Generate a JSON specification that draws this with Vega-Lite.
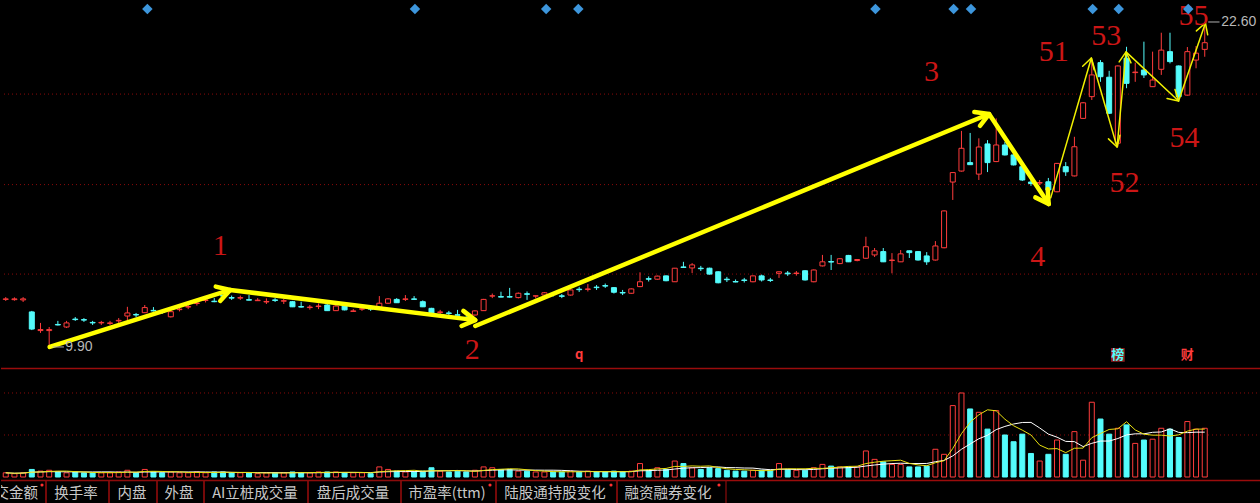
{
"$schema":"https://vega.github.io/schema/vega-lite/v6.json",
"background":"#000000",
"padding":0,
"spacing":0,
"config":{"view":{"stroke":null}},
"datasets":{
"k":[
{"i":0,"o":11.75,"h":11.84,"l":11.69,"c":11.77,"d":"u","v":5,"m5":5,"m10":5},
{"i":1,"o":11.74,"h":11.83,"l":11.70,"c":11.77,"d":"u","v":4,"m5":4.5,"m10":4.5},
{"i":2,"o":11.73,"h":11.84,"l":11.65,"c":11.77,"d":"u","v":5,"m5":4.67,"m10":4.67},
{"i":3,"o":11.26,"h":11.30,"l":10.55,"c":10.59,"d":"d","v":9,"m5":5.75,"m10":5.75},
{"i":4,"o":10.53,"h":10.83,"l":10.44,"c":10.57,"d":"u","v":7,"m5":6,"m10":6},
{"i":5,"o":10.53,"h":10.67,"l":9.90,"c":10.57,"d":"u","v":8,"m5":6.6,"m10":6.33},
{"i":6,"o":10.77,"h":10.91,"l":10.73,"c":10.75,"d":"d","v":6,"m5":7,"m10":6.29},
{"i":7,"o":10.67,"h":10.91,"l":10.63,"c":10.83,"d":"u","v":5,"m5":7,"m10":6.13},
{"i":8,"o":10.98,"h":11.06,"l":10.91,"c":10.96,"d":"d","v":6,"m5":6.4,"m10":6.11},
{"i":9,"o":10.96,"h":11.02,"l":10.87,"c":10.94,"d":"d","v":5,"m5":6,"m10":6},
{"i":10,"o":10.85,"h":10.91,"l":10.75,"c":10.83,"d":"d","v":5,"m5":5.4,"m10":6},
{"i":11,"o":10.83,"h":10.91,"l":10.75,"c":10.85,"d":"u","v":5,"m5":5.2,"m10":6.1},
{"i":12,"o":10.81,"h":10.91,"l":10.75,"c":10.83,"d":"u","v":5,"m5":5.2,"m10":6.1},
{"i":13,"o":10.91,"h":11.02,"l":10.83,"c":10.93,"d":"u","v":6,"m5":5.2,"m10":5.8},
{"i":14,"o":11.10,"h":11.46,"l":10.94,"c":11.22,"d":"u","v":8,"m5":5.8,"m10":5.9},
{"i":15,"o":11.16,"h":11.22,"l":11.06,"c":11.14,"d":"d","v":5,"m5":5.8,"m10":5.6},
{"i":16,"o":11.23,"h":11.53,"l":11.22,"c":11.43,"d":"u","v":9,"m5":6.6,"m10":5.9},
{"i":17,"o":11.32,"h":11.45,"l":11.28,"c":11.30,"d":"d","v":6,"m5":6.8,"m10":6},
{"i":18,"o":11.26,"h":11.34,"l":11.18,"c":11.24,"d":"d","v":5,"m5":6.6,"m10":5.9},
{"i":19,"o":11.07,"h":11.34,"l":11.04,"c":11.27,"d":"u","v":6,"m5":6.2,"m10":6},
{"i":20,"o":11.35,"h":11.45,"l":11.28,"c":11.37,"d":"u","v":5,"m5":6.2,"m10":6},
{"i":21,"o":11.45,"h":11.55,"l":11.37,"c":11.47,"d":"u","v":5,"m5":5.4,"m10":6},
{"i":22,"o":11.59,"h":11.69,"l":11.51,"c":11.61,"d":"u","v":6,"m5":5.4,"m10":6.1},
{"i":23,"o":11.71,"h":11.80,"l":11.63,"c":11.73,"d":"u","v":5,"m5":5.4,"m10":6},
{"i":24,"o":11.68,"h":11.80,"l":11.64,"c":11.66,"d":"d","v":6,"m5":5.4,"m10":5.8},
{"i":25,"o":11.90,"h":12.00,"l":11.82,"c":11.88,"d":"d","v":6,"m5":5.6,"m10":5.9},
{"i":26,"o":11.82,"h":11.90,"l":11.73,"c":11.80,"d":"d","v":5,"m5":5.6,"m10":5.5},
{"i":27,"o":11.80,"h":11.90,"l":11.73,"c":11.82,"d":"u","v":5,"m5":5.4,"m10":5.4},
{"i":28,"o":11.74,"h":11.92,"l":11.71,"c":11.72,"d":"d","v":5,"m5":5.4,"m10":5.4},
{"i":29,"o":11.70,"h":11.80,"l":11.69,"c":11.72,"d":"u","v":4,"m5":5,"m10":5.2},
{"i":30,"o":11.65,"h":11.79,"l":11.57,"c":11.67,"d":"u","v":5,"m5":4.8,"m10":5.2},
{"i":31,"o":11.73,"h":11.80,"l":11.65,"c":11.71,"d":"d","v":5,"m5":4.8,"m10":5.2},
{"i":32,"o":11.68,"h":11.77,"l":11.57,"c":11.70,"d":"u","v":5,"m5":4.8,"m10":5.1},
{"i":33,"o":11.66,"h":11.69,"l":11.45,"c":11.46,"d":"d","v":6,"m5":5,"m10":5.2},
{"i":34,"o":11.47,"h":11.66,"l":11.43,"c":11.45,"d":"d","v":5,"m5":5.2,"m10":5.1},
{"i":35,"o":11.43,"h":11.53,"l":11.35,"c":11.45,"d":"u","v":5,"m5":5.2,"m10":5},
{"i":36,"o":11.47,"h":11.59,"l":11.37,"c":11.49,"d":"u","v":6,"m5":5.4,"m10":5.1},
{"i":37,"o":11.53,"h":11.57,"l":11.30,"c":11.31,"d":"d","v":6,"m5":5.6,"m10":5.2},
{"i":38,"o":11.31,"h":11.53,"l":11.30,"c":11.49,"d":"u","v":6,"m5":5.6,"m10":5.3},
{"i":39,"o":11.49,"h":11.51,"l":11.32,"c":11.34,"d":"d","v":5,"m5":5.6,"m10":5.4},
{"i":40,"o":11.28,"h":11.37,"l":11.27,"c":11.30,"d":"u","v":5,"m5":5.6,"m10":5.4},
{"i":41,"o":11.37,"h":11.47,"l":11.30,"c":11.38,"d":"u","v":5,"m5":5.4,"m10":5.4},
{"i":42,"o":11.39,"h":11.45,"l":11.30,"c":11.37,"d":"d","v":4,"m5":5,"m10":5.3},
{"i":43,"o":11.44,"h":11.88,"l":11.42,"c":11.60,"d":"u","v":12,"m5":6.2,"m10":5.9},
{"i":44,"o":11.60,"h":11.80,"l":11.58,"c":11.77,"d":"u","v":9,"m5":7,"m10":6.3},
{"i":45,"o":11.75,"h":11.80,"l":11.61,"c":11.62,"d":"d","v":7,"m5":7.4,"m10":6.5},
{"i":46,"o":11.75,"h":11.92,"l":11.69,"c":11.77,"d":"u","v":6,"m5":7.6,"m10":6.5},
{"i":47,"o":11.77,"h":11.88,"l":11.73,"c":11.75,"d":"d","v":6,"m5":8,"m10":6.5},
{"i":48,"o":11.66,"h":11.71,"l":11.45,"c":11.46,"d":"d","v":7,"m5":7,"m10":6.6},
{"i":49,"o":11.40,"h":11.42,"l":11.20,"c":11.22,"d":"d","v":11,"m5":7.4,"m10":7.2},
{"i":50,"o":11.24,"h":11.34,"l":11.18,"c":11.26,"d":"u","v":7,"m5":7.4,"m10":7.4},
{"i":51,"o":11.22,"h":11.30,"l":11.12,"c":11.20,"d":"d","v":6,"m5":7.4,"m10":7.5},
{"i":52,"o":11.15,"h":11.34,"l":11.12,"c":11.13,"d":"d","v":7,"m5":7.6,"m10":7.8},
{"i":53,"o":11.04,"h":11.10,"l":10.96,"c":11.02,"d":"d","v":6,"m5":7.4,"m10":7.2},
{"i":54,"o":11.14,"h":11.32,"l":11.12,"c":11.30,"d":"u","v":8,"m5":6.8,"m10":7.1},
{"i":55,"o":11.31,"h":11.77,"l":11.30,"c":11.75,"d":"u","v":12,"m5":7.8,"m10":7.6},
{"i":56,"o":11.88,"h":11.98,"l":11.80,"c":11.89,"d":"u","v":11,"m5":8.8,"m10":8.1},
{"i":57,"o":11.86,"h":12.05,"l":11.83,"c":11.84,"d":"d","v":9,"m5":9.2,"m10":8.4},
{"i":58,"o":11.86,"h":12.20,"l":11.82,"c":11.84,"d":"d","v":9,"m5":9.8,"m10":8.6},
{"i":59,"o":11.82,"h":12.02,"l":11.79,"c":11.99,"d":"u","v":7,"m5":9.6,"m10":8.2},
{"i":60,"o":11.97,"h":12.06,"l":11.73,"c":11.95,"d":"d","v":7,"m5":8.6,"m10":8.2},
{"i":61,"o":11.88,"h":11.90,"l":11.79,"c":11.89,"d":"u","v":6,"m5":7.6,"m10":8.2},
{"i":62,"o":11.92,"h":12.04,"l":11.90,"c":12.01,"d":"u","v":6,"m5":7,"m10":8.1},
{"i":63,"o":11.97,"h":12.04,"l":11.86,"c":11.95,"d":"d","v":6,"m5":6.4,"m10":8.1},
{"i":64,"o":11.89,"h":11.96,"l":11.80,"c":11.87,"d":"d","v":6,"m5":6.2,"m10":7.9},
{"i":65,"o":11.92,"h":12.14,"l":11.90,"c":12.12,"d":"u","v":7,"m5":6.2,"m10":7.4},
{"i":66,"o":12.15,"h":12.24,"l":12.04,"c":12.13,"d":"d","v":6,"m5":6.2,"m10":6.9},
{"i":67,"o":12.14,"h":12.35,"l":12.06,"c":12.16,"d":"u","v":7,"m5":6.4,"m10":6.7},
{"i":68,"o":12.23,"h":12.31,"l":12.12,"c":12.21,"d":"d","v":6,"m5":6.4,"m10":6.4},
{"i":69,"o":12.29,"h":12.37,"l":12.20,"c":12.27,"d":"d","v":6,"m5":6.4,"m10":6.3},
{"i":70,"o":12.21,"h":12.23,"l":11.98,"c":12.03,"d":"d","v":7,"m5":6.4,"m10":6.3},
{"i":71,"o":12.02,"h":12.12,"l":11.92,"c":12.00,"d":"d","v":6,"m5":6.4,"m10":6.3},
{"i":72,"o":11.99,"h":12.18,"l":11.97,"c":12.16,"d":"u","v":7,"m5":6.4,"m10":6.4},
{"i":73,"o":12.25,"h":12.81,"l":12.23,"c":12.44,"d":"u","v":16,"m5":8.4,"m10":7.4},
{"i":74,"o":12.56,"h":12.65,"l":12.45,"c":12.54,"d":"d","v":8,"m5":8.8,"m10":7.6},
{"i":75,"o":12.54,"h":12.68,"l":12.52,"c":12.66,"d":"u","v":11,"m5":9.6,"m10":8},
{"i":76,"o":12.67,"h":12.68,"l":12.46,"c":12.48,"d":"d","v":9,"m5":10.2,"m10":8.3},
{"i":77,"o":12.44,"h":12.98,"l":12.43,"c":12.97,"d":"u","v":19,"m5":12.6,"m10":9.5},
{"i":78,"o":13.02,"h":13.22,"l":12.98,"c":13.00,"d":"d","v":16,"m5":12.6,"m10":10.5},
{"i":79,"o":12.98,"h":13.17,"l":12.78,"c":13.10,"d":"u","v":11,"m5":13.2,"m10":11},
{"i":80,"o":12.97,"h":13.06,"l":12.86,"c":12.95,"d":"d","v":9,"m5":12.8,"m10":11.2},
{"i":81,"o":12.97,"h":12.99,"l":12.72,"c":12.74,"d":"d","v":11,"m5":13.2,"m10":11.7},
{"i":82,"o":12.83,"h":12.85,"l":12.38,"c":12.40,"d":"d","v":10,"m5":11.4,"m10":12},
{"i":83,"o":12.54,"h":12.63,"l":12.43,"c":12.52,"d":"d","v":8,"m5":9.8,"m10":11.2},
{"i":84,"o":12.45,"h":12.53,"l":12.42,"c":12.43,"d":"d","v":7,"m5":9,"m10":11.1},
{"i":85,"o":12.51,"h":12.59,"l":12.41,"c":12.49,"d":"d","v":7,"m5":8.6,"m10":10.7},
{"i":86,"o":12.44,"h":12.68,"l":12.42,"c":12.67,"d":"u","v":8,"m5":8,"m10":10.6},
{"i":87,"o":12.67,"h":12.72,"l":12.45,"c":12.51,"d":"d","v":8,"m5":7.6,"m10":9.5},
{"i":88,"o":12.51,"h":12.59,"l":12.43,"c":12.49,"d":"d","v":8,"m5":7.6,"m10":8.7},
{"i":89,"o":12.77,"h":12.84,"l":12.59,"c":12.83,"d":"u","v":16,"m5":9.4,"m10":9.2},
{"i":90,"o":12.78,"h":12.86,"l":12.67,"c":12.75,"d":"d","v":9,"m5":9.8,"m10":9.2},
{"i":91,"o":12.76,"h":12.86,"l":12.68,"c":12.78,"d":"u","v":8,"m5":9.8,"m10":8.9},
{"i":92,"o":12.87,"h":12.89,"l":12.49,"c":12.51,"d":"d","v":8,"m5":9.8,"m10":8.7},
{"i":93,"o":12.44,"h":12.92,"l":12.42,"c":12.90,"d":"u","v":11,"m5":10.4,"m10":9},
{"i":94,"o":13.06,"h":13.49,"l":13.04,"c":13.22,"d":"u","v":15,"m5":10.2,"m10":9.8},
{"i":95,"o":13.23,"h":13.49,"l":12.90,"c":13.21,"d":"d","v":13,"m5":11,"m10":10.4},
{"i":96,"o":13.15,"h":13.36,"l":13.13,"c":13.34,"d":"u","v":12,"m5":11.8,"m10":10.8},
{"i":97,"o":13.47,"h":13.49,"l":13.21,"c":13.22,"d":"d","v":12,"m5":12.6,"m10":11.2},
{"i":98,"o":13.27,"h":13.32,"l":13.24,"c":13.31,"d":"u","v":12,"m5":12.8,"m10":11.6},
{"i":99,"o":13.36,"h":14.20,"l":13.34,"c":13.81,"d":"u","v":31,"m5":16,"m10":13.1},
{"i":100,"o":13.49,"h":13.76,"l":13.41,"c":13.65,"d":"u","v":21,"m5":17.6,"m10":14.3},
{"i":101,"o":13.62,"h":13.76,"l":13.21,"c":13.22,"d":"d","v":18,"m5":18.8,"m10":15.3},
{"i":102,"o":13.27,"h":13.56,"l":12.77,"c":13.29,"d":"u","v":15,"m5":19.4,"m10":16},
{"i":103,"o":13.22,"h":13.68,"l":13.21,"c":13.53,"d":"u","v":15,"m5":20,"m10":16.4},
{"i":104,"o":13.65,"h":13.66,"l":13.37,"c":13.58,"d":"d","v":12,"m5":16.2,"m10":16.1},
{"i":105,"o":13.62,"h":13.64,"l":13.27,"c":13.29,"d":"d","v":12,"m5":14.4,"m10":16},
{"i":106,"o":13.45,"h":13.60,"l":13.10,"c":13.22,"d":"d","v":13,"m5":13.4,"m10":16.1},
{"i":107,"o":13.29,"h":14.03,"l":13.27,"c":13.84,"d":"u","v":33,"m5":17,"m10":18.2},
{"i":108,"o":13.77,"h":15.23,"l":13.75,"c":15.21,"d":"u","v":27,"m5":19.4,"m10":19.7},
{"i":109,"o":16.34,"h":16.72,"l":15.64,"c":16.71,"d":"u","v":85,"m5":34,"m10":25.1},
{"i":110,"o":16.77,"h":18.34,"l":16.75,"c":17.66,"d":"u","v":100,"m5":51.6,"m10":33},
{"i":111,"o":17.10,"h":18.26,"l":17.01,"c":17.02,"d":"d","v":81,"m5":65.2,"m10":39.3},
{"i":112,"o":16.65,"h":18.05,"l":16.42,"c":17.71,"d":"u","v":77,"m5":74,"m10":45.5},
{"i":113,"o":17.83,"h":17.98,"l":16.73,"c":17.10,"d":"d","v":57,"m5":80,"m10":49.7},
{"i":114,"o":17.14,"h":18.83,"l":17.12,"c":17.79,"d":"u","v":79,"m5":78.8,"m10":56.4},
{"i":115,"o":17.79,"h":17.91,"l":17.38,"c":17.40,"d":"d","v":50,"m5":68.8,"m10":60.2},
{"i":116,"o":17.40,"h":17.48,"l":16.99,"c":17.01,"d":"d","v":42,"m5":61,"m10":63.1},
{"i":117,"o":16.94,"h":16.97,"l":16.38,"c":16.42,"d":"d","v":51,"m5":55.8,"m10":64.9},
{"i":118,"o":16.34,"h":16.42,"l":16.19,"c":16.28,"d":"d","v":28,"m5":50,"m10":65},
{"i":119,"o":16.30,"h":16.42,"l":16.22,"c":16.32,"d":"u","v":19,"m5":38,"m10":58.4},
{"i":120,"o":16.35,"h":16.50,"l":16.01,"c":16.03,"d":"d","v":27,"m5":33.4,"m10":51.1},
{"i":121,"o":15.96,"h":17.08,"l":15.94,"c":17.07,"d":"u","v":44,"m5":33.8,"m10":47.4},
{"i":122,"o":16.94,"h":17.12,"l":16.58,"c":16.74,"d":"d","v":27,"m5":29,"m10":42.4},
{"i":123,"o":16.58,"h":18.11,"l":16.56,"c":17.72,"d":"u","v":54,"m5":34.2,"m10":42.1},
{"i":124,"o":18.83,"h":19.47,"l":18.81,"c":19.44,"d":"u","v":20,"m5":34.4,"m10":36.2},
{"i":125,"o":19.68,"h":21.11,"l":19.55,"c":20.53,"d":"u","v":89,"m5":46.8,"m10":40.1},
{"i":126,"o":21.01,"h":21.11,"l":20.26,"c":20.46,"d":"d","v":69,"m5":51.8,"m10":42.8},
{"i":127,"o":20.44,"h":20.69,"l":19.00,"c":19.03,"d":"d","v":51,"m5":56.6,"m10":42.8},
{"i":128,"o":17.86,"h":20.90,"l":17.72,"c":20.88,"d":"u","v":58,"m5":57.4,"m10":45.8},
{"i":129,"o":21.18,"h":21.63,"l":20.01,"c":20.20,"d":"d","v":62,"m5":65.8,"m10":50.1},
{"i":130,"o":20.62,"h":21.01,"l":20.26,"c":20.64,"d":"u","v":40,"m5":56,"m10":51.4},
{"i":131,"o":20.72,"h":21.83,"l":20.41,"c":20.53,"d":"d","v":44,"m5":51,"m10":51.4},
{"i":132,"o":20.07,"h":21.44,"l":20.06,"c":20.33,"d":"u","v":45,"m5":49.8,"m10":53.2},
{"i":133,"o":20.75,"h":22.18,"l":20.53,"c":21.50,"d":"u","v":58,"m5":49.8,"m10":53.6},
{"i":134,"o":21.44,"h":22.18,"l":20.98,"c":21.05,"d":"d","v":57,"m5":48.8,"m10":57.3},
{"i":135,"o":20.88,"h":20.90,"l":19.48,"c":19.68,"d":"d","v":47,"m5":50.2,"m10":53.1},
{"i":136,"o":19.74,"h":21.62,"l":19.72,"c":21.44,"d":"u","v":66,"m5":54.6,"m10":52.8},
{"i":137,"o":21.11,"h":21.66,"l":20.79,"c":21.38,"d":"u","v":57,"m5":57,"m10":53.4},
{"i":138,"o":21.53,"h":22.60,"l":21.24,"c":21.79,"d":"u","v":58,"m5":57,"m10":53.4}
],
"grid":[{"gp":19.78},{"gp":16.24},{"gp":12.74}],
"vgrid":[{"gv":100},{"gv":50}],
"thick":[
{"g":"s1","o":1,"x":5.06,"y":9.89},{"g":"s1","o":2,"x":25.84,"y":12.12},{"g":"s1","o":3,"x":54.04,"y":10.94},
{"g":"h1","o":1,"x":24.17,"y":12.25},{"g":"h1","o":2,"x":25.84,"y":12.12},{"g":"h1","o":3,"x":24.68,"y":11.69},
{"g":"h2","o":1,"x":52.67,"y":11.30},{"g":"h2","o":2,"x":54.04,"y":10.94},{"g":"h2","o":3,"x":52.46,"y":10.71},
{"g":"s2","o":1,"x":54.04,"y":10.71},{"g":"s2","o":2,"x":113.18,"y":19.00},{"g":"s2","o":3,"x":120.04,"y":15.48},
{"g":"h3","o":1,"x":111.48,"y":19.08},{"g":"h3","o":2,"x":113.18,"y":19.00},{"g":"h3","o":3,"x":112.13,"y":18.54},
{"g":"h4","o":1,"x":119.92,"y":16.07},{"g":"h4","o":2,"x":120.04,"y":15.48},{"g":"h4","o":3,"x":118.50,"y":15.74}
],
"thin":[
{"g":"z","o":1,"x":120.27,"y":15.72},{"g":"z","o":2,"x":124.95,"y":21.19},{"g":"z","o":3,"x":127.91,"y":17.71},{"g":"z","o":4,"x":128.94,"y":21.43},{"g":"z","o":5,"x":134.99,"y":19.51},{"g":"z","o":6,"x":138.08,"y":22.56},
{"g":"t1","o":1,"x":123.95,"y":20.87},{"g":"t1","o":2,"x":124.95,"y":21.19},{"g":"t1","o":3,"x":125.27,"y":20.73},
{"g":"t2","o":1,"x":128.24,"y":18.17},{"g":"t2","o":2,"x":127.91,"y":17.71},{"g":"t2","o":3,"x":126.92,"y":18.03},
{"g":"t3","o":1,"x":128.15,"y":21.04},{"g":"t3","o":2,"x":128.94,"y":21.43},{"g":"t3","o":3,"x":129.51,"y":21.00},
{"g":"t4","o":1,"x":134.58,"y":19.96},{"g":"t4","o":2,"x":134.99,"y":19.51},{"g":"t4","o":3,"x":133.66,"y":19.61},
{"g":"t5","o":1,"x":137.04,"y":22.25},{"g":"t5","o":2,"x":138.08,"y":22.56},{"g":"t5","o":3,"x":138.34,"y":22.10}
],
"labels":[
{"t":"1","x":24.69,"y":13.84},{"t":"2","x":53.70,"y":9.77},{"t":"3","x":106.56,"y":20.64},{"t":"4","x":118.78,"y":13.41},
{"t":"51","x":120.61,"y":21.41},{"t":"52","x":128.77,"y":16.30},{"t":"53","x":126.66,"y":22.05},{"t":"54","x":135.68,"y":18.08},{"t":"55","x":136.71,"y":22.84}
],
"diamonds":[{"i":16.3},{"i":47.1},{"i":62.2},{"i":65.9},{"i":100.1},{"i":109.1},{"i":111.1},{"i":125.1},{"i":128.1},{"i":136.1}],
"extremes":[{"t":"9.90","x0":5.4,"x1":6.7,"tx":6.85,"y":9.89},{"t":"22.60","x0":138.4,"x1":139.7,"tx":139.9,"y":22.60}],
"events":[{"t":"q","i":66,"k":"q"},{"t":"榜","i":128,"k":"b"},{"t":"财","i":136,"k":"c"}],
"tabs":[
{"n":"成交金额","x0":-10,"x1":45,"lx":8},
{"n":"换手率","x0":45,"x1":108,"lx":75},
{"n":"内盘","x0":108,"x1":156,"lx":131},
{"n":"外盘","x0":156,"x1":203,"lx":178},
{"n":"AI立桩成交量","x0":203,"x1":307,"lx":254},
{"n":"盘后成交量","x0":307,"x1":400,"lx":352},
{"n":"市盈率(ttm)","x0":400,"x1":495,"lx":446},
{"n":"陆股通持股变化","x0":495,"x1":616,"lx":554},
{"n":"融资融券变化","x0":616,"x1":725,"lx":667}
],
"dots":[{"dx":41},{"dx":489},{"dx":610},{"dx":718}]
},
"vconcat":[
{
"width":1260,"height":367,
"layer":[
{"data":{"name":"grid"},"mark":{"type":"rule","color":"#8a0a0a","strokeDash":[1,3],"strokeWidth":1,"clip":true},
 "encoding":{"y":{"field":"gp","type":"quantitative","scale":{"domain":[9.106,23.46],"nice":false,"zero":false},"axis":null}}},
{"data":{"name":"k"},"mark":{"type":"rule","strokeWidth":1,"clip":true},
 "encoding":{"x":{"field":"i","type":"quantitative","scale":{"domain":[0.03,143.9],"nice":false,"zero":false},"axis":null},
  "y":{"field":"l","type":"quantitative","scale":{"domain":[9.106,23.46],"nice":false,"zero":false},"axis":null},"y2":{"field":"h"},
  "color":{"field":"d","type":"nominal","scale":{"domain":["u","d"],"range":["#ff3c3c","#54fcfc"]},"legend":null}}},
{"data":{"name":"k"},"mark":{"type":"bar","width":5,"strokeWidth":1,"clip":true},
 "encoding":{"x":{"field":"i","type":"quantitative","axis":null},
  "y":{"field":"o","type":"quantitative","axis":null},"y2":{"field":"c"},
  "fill":{"field":"d","type":"nominal","scale":{"domain":["u","d"],"range":["#000000","#54fcfc"]},"legend":null},
  "stroke":{"field":"d","type":"nominal","scale":{"domain":["u","d"],"range":["#ff3c3c","#54fcfc"]},"legend":null}}},
{"data":{"name":"thick"},"mark":{"type":"line","color":"#ffff00","strokeWidth":4.5,"strokeCap":"round","strokeJoin":"round","clip":true},
 "encoding":{"x":{"field":"x","type":"quantitative","axis":null},"y":{"field":"y","type":"quantitative","axis":null},"detail":{"field":"g"},"order":{"field":"o"}}},
{"data":{"name":"thin"},"mark":{"type":"line","color":"#f0f000","strokeWidth":1.5,"strokeCap":"round","strokeJoin":"round","clip":true},
 "encoding":{"x":{"field":"x","type":"quantitative","axis":null},"y":{"field":"y","type":"quantitative","axis":null},"detail":{"field":"g"},"order":{"field":"o"}}},
{"data":{"name":"labels"},"mark":{"type":"text","font":"Liberation Serif","fontSize":30,"color":"#cc1616","align":"center","baseline":"middle","clip":true},
 "encoding":{"x":{"field":"x","type":"quantitative","axis":null},"y":{"field":"y","type":"quantitative","axis":null},"text":{"field":"t"}}},
{"data":{"name":"diamonds"},"mark":{"type":"point","shape":"diamond","filled":true,"size":110,"color":"#3d96dc","opacity":1,"clip":true},
 "encoding":{"x":{"field":"i","type":"quantitative","axis":null},"y":{"datum":23.11,"type":"quantitative","axis":null}}},
{"data":{"name":"extremes"},"mark":{"type":"rule","color":"#b0b0b0","strokeWidth":1,"clip":true},
 "encoding":{"x":{"field":"x0","type":"quantitative","axis":null},"x2":{"field":"x1"},"y":{"field":"y","type":"quantitative","axis":null}}},
{"data":{"name":"extremes"},"mark":{"type":"text","font":"Liberation Sans","fontSize":14,"color":"#b8b8b8","align":"left","baseline":"middle","clip":true},
 "encoding":{"x":{"field":"tx","type":"quantitative","axis":null},"y":{"field":"y","type":"quantitative","axis":null},"text":{"field":"t"}}},
{"data":{"name":"events"},"transform":[{"filter":"datum.k=='b'"}],"mark":{"type":"point","shape":"square","filled":true,"size":190,"color":"#8c1c1c","opacity":1,"clip":true},
 "encoding":{"x":{"field":"i","type":"quantitative","axis":null},"y":{"datum":9.58,"type":"quantitative","axis":null}}},
{"data":{"name":"events"},"mark":{"type":"text","font":"Noto Sans CJK SC","fontSize":13,"fontWeight":"bold","align":"center","baseline":"middle","clip":true},
 "encoding":{"x":{"field":"i","type":"quantitative","axis":null},"y":{"datum":9.58,"type":"quantitative","axis":null},"text":{"field":"t"},
  "color":{"field":"k","type":"nominal","scale":{"domain":["q","b","c"],"range":["#e02828","#f4d8d8","#ff7070"]},"legend":null}}}
]
},
{
"width":1260,"height":111,
"layer":[
{"data":{"name":"vgrid"},"mark":{"type":"rule","color":"#8a0a0a","strokeDash":[1,3],"strokeWidth":1,"clip":true},
 "encoding":{"y":{"field":"gv","type":"quantitative","scale":{"domain":[-2.38,129.76],"nice":false,"zero":false},"axis":null}}},
{"data":{"values":[{"a":1}]},"mark":{"type":"rule","color":"#9a0c0c","strokeWidth":1.5},
 "encoding":{"y":{"datum":129.3,"type":"quantitative","axis":null}}},
{"data":{"name":"k"},"mark":{"type":"bar","width":5,"strokeWidth":1,"clip":true},
 "encoding":{"x":{"field":"i","type":"quantitative","scale":{"domain":[0.03,143.9],"nice":false,"zero":false},"axis":null},
  "y":{"field":"v","type":"quantitative","scale":{"domain":[-2.38,129.76],"nice":false,"zero":false},"axis":null},"y2":{"datum":0},
  "fill":{"field":"d","type":"nominal","scale":{"domain":["u","d"],"range":["#000000","#54fcfc"]},"legend":null},
  "stroke":{"field":"d","type":"nominal","scale":{"domain":["u","d"],"range":["#ff3c3c","#54fcfc"]},"legend":null}}},
{"data":{"name":"k"},"mark":{"type":"line","color":"#ffffff","strokeWidth":1,"clip":true},
 "encoding":{"x":{"field":"i","type":"quantitative","axis":null},"y":{"field":"m10","type":"quantitative","axis":null}}},
{"data":{"name":"k"},"mark":{"type":"line","color":"#e8e010","strokeWidth":1,"clip":true},
 "encoding":{"x":{"field":"i","type":"quantitative","axis":null},"y":{"field":"m5","type":"quantitative","axis":null}}}
]
},
{
"width":1260,"height":25,
"layer":[
{"data":{"values":[{"a":1}]},"mark":{"type":"rule","color":"#9a0c0c","strokeWidth":1.5},
 "encoding":{"y":{"datum":24.5,"type":"quantitative","scale":{"domain":[0,25],"nice":false,"zero":false},"axis":null}}},
{"data":{"name":"tabs"},"mark":{"type":"rect","fill":"#000000","fillOpacity":0,"stroke":"#8c0c0c","strokeWidth":1.2,"clip":true},
 "encoding":{"x":{"field":"x0","type":"quantitative","scale":{"domain":[0,1260],"nice":false,"zero":false},"axis":null},"x2":{"field":"x1"},
  "y":{"datum":-2,"type":"quantitative","axis":null},"y2":{"datum":24.5}}},
{"data":{"name":"tabs"},"mark":{"type":"text","font":"Noto Sans CJK SC","fontSize":14.5,"color":"#c8c8c8","align":"center","baseline":"middle","clip":true},
 "encoding":{"x":{"field":"lx","type":"quantitative","axis":null},"y":{"datum":11,"type":"quantitative","axis":null},"text":{"field":"n"}}},
{"data":{"name":"dots"},"mark":{"type":"point","shape":"circle","filled":true,"size":10,"color":"#ff3030","opacity":1,"clip":true},
 "encoding":{"x":{"field":"dx","type":"quantitative","axis":null},"y":{"datum":20,"type":"quantitative","axis":null}}}
]
}
]
}
